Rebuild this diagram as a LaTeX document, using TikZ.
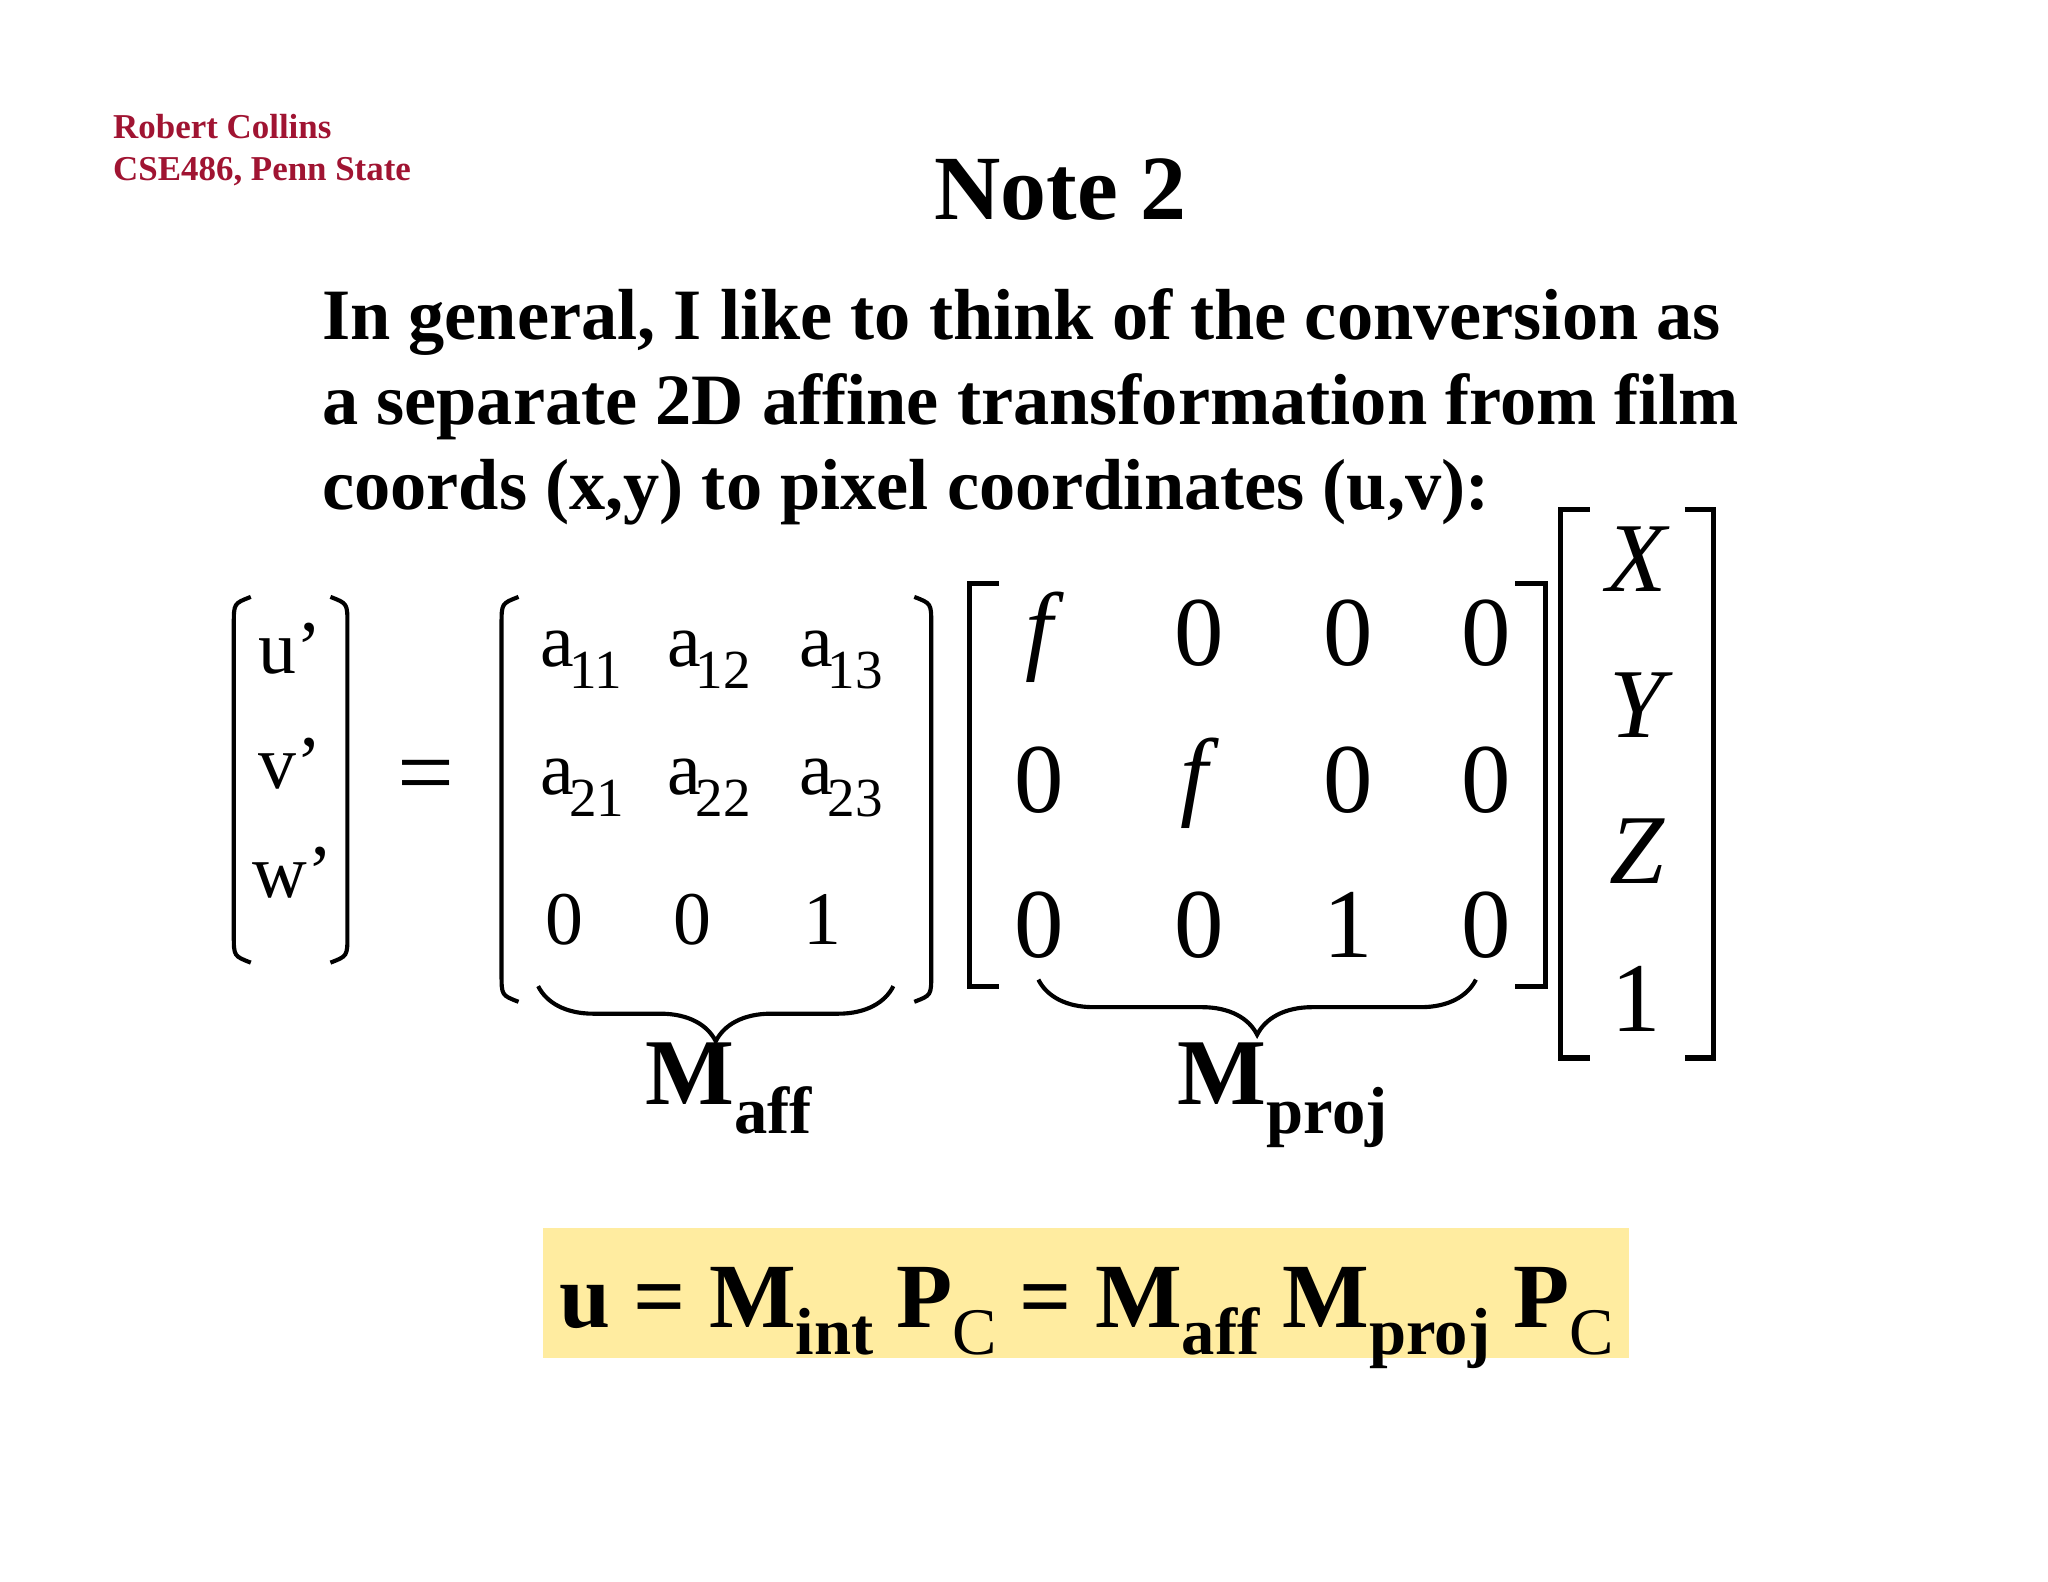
\documentclass[tikz,border=0pt]{standalone}
\usepackage{fontspec}
\setmainfont{Liberation Serif}
\usetikzlibrary{decorations.pathreplacing}
\definecolor{hdr}{RGB}{160,20,50}
\definecolor{hl}{RGB}{255,236,160}
\newcommand{\fsz}[1]{\fontsize{#1}{#1}\selectfont}
\newcommand{\sbs}[1]{\raisebox{-0.3em}{\fsz{14.5}#1}}
\begin{document}
\begin{tikzpicture}[x=0.01cm,y=-0.01cm,
  br/.style={line width=1.1pt},
  pr/.style={line width=0.9pt},
  ent/.style={font=\fsz{16.5}, inner sep=0},
  big/.style={font=\fsz{21.5}, inner sep=0},
  bigi/.style={font=\fsz{21.5}\itshape, inner sep=0},
  subs/.style={font=\fsz{12}, inner sep=0, anchor=west},
  bodyl/.style={font=\fsz{15.75}\bfseries,anchor=base west,inner sep=0}]
\useasboundingbox (0,0) rectangle (1568,1211);
\node[font=\fsz{7.6}\bfseries,text=hdr,anchor=west,align=left,inner sep=0] (hdr) at (86,115) {Robert Collins\\[1.5pt]CSE486, Penn State};
\node[font=\fsz{20}\bfseries,anchor=base,inner sep=0] (title) at (812,168) {Note 2};
\node[bodyl] (l1) at (246,260) {In general, I like to think of the conversion as};
\node[bodyl] (l2) at (246,325) {a separate 2D affine transformation from film};
\node[bodyl] (l3) at (246,390) {coords (x,y) to pixel coordinates (u,v):};
% u' vector
\draw[pr] (192,457) .. controls (179,462) .. (179,478) -- (179,716) .. controls (179,732) .. (192,737);
\draw[pr] (253,457) .. controls (266,462) .. (266,478) -- (266,716) .. controls (266,732) .. (253,737);
\node[ent] (u) at (222,497) {u’};
\node[ent] (v) at (222,585) {v’};
\node[ent] (w) at (224,668) {w’};
\node[font=\fsz{22},inner sep=0] (eq) at (326,600) {=};
% affine matrix
\draw[pr] (397,457) .. controls (384,462) .. (384,478) -- (384,746) .. controls (384,762) .. (397,767);
\draw[pr] (700,457) .. controls (713,462) .. (713,478) -- (713,746) .. controls (713,762) .. (700,767);
\foreach \r/\y in {1/497,2/595}{
  \foreach \c/\x in {1/427,2/524,3/625}{
    \node[ent] (a\r\c) at (\x,\y) {a};
    \node[subs] at (\x+8,\y+16) {\r\c};
  }}
\node[ent] (a31) at (432,704) {0};
\node[ent] (a32) at (530,704) {0};
\node[ent] (a33) at (630,704) {1};
% projection matrix
\draw[br] (765,447) -- (742,447) -- (742,755) -- (765,755);
\draw[br] (1160,447) -- (1183,447) -- (1183,755) -- (1160,755);
\node[bigi] (p11) at (796,488) {f};
\node[big] (p12) at (918,485) {0};
\node[big] (p13) at (1032,485) {0};
\node[big] (p14) at (1138,485) {0};
\node[big] (p21) at (796,597) {0};
\node[bigi] (p22) at (914,600) {f};
\node[big] (p23) at (1032,597) {0};
\node[big] (p24) at (1138,597) {0};
\node[big] (p31) at (796,708) {0};
\node[big] (p32) at (918,708) {0};
\node[big] (p33) at (1032,708) {1};
\node[big] (p34) at (1138,708) {0};
% vector XYZ1
\draw[br] (1217,390) -- (1195,390) -- (1195,810) -- (1217,810);
\draw[br] (1290,390) -- (1312,390) -- (1312,810) -- (1290,810);
\node[bigi] (X) at (1253,428) {X};
\node[bigi] (Y) at (1253,540) {Y};
\node[bigi] (Z) at (1253,652) {Z};
\node[big] (one) at (1253,765) {1};
% braces
\draw[pr,decorate,decoration={brace,mirror,amplitude=12pt}] (412,755) -- (684,755);
\draw[pr,decorate,decoration={brace,mirror,amplitude=12pt}] (795,750) -- (1130,750);
\node[font=\fsz{20.5}\bfseries,inner sep=0,anchor=base] (Maff) at (558,846) {M\sbs{aff}};
\node[font=\fsz{20.5}\bfseries,inner sep=0,anchor=base] (Mproj) at (982,846) {M\sbs{proj}};
% highlighted formula
\fill[hl] (416,940) rectangle (1247,1040);
\node[font=\fsz{20}\bfseries,inner sep=0,anchor=base] (form) at (832,1016) {u = M\sbs{int} P\sbs{\mdseries C} = M\sbs{aff} M\sbs{proj} P\sbs{\mdseries C}};
\end{tikzpicture}
\end{document}
